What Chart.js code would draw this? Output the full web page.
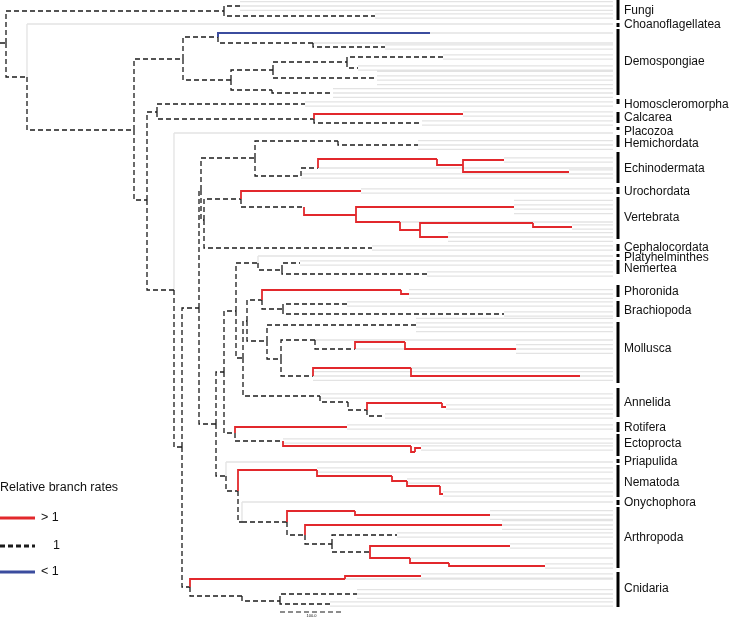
<!DOCTYPE html>
<html>
<head>
<meta charset="utf-8">
<script src="https://cdn.jsdelivr.net/npm/chart.js@4.4.0/dist/chart.umd.min.js"></script>
<style>
  html, body { margin: 0; padding: 0; background: #fff; }
</style>
</head>
<body>
<canvas id="treeChart" width="729" height="617"></canvas>
<script>
// each branch: [name, parent, depth, row, rate, taxa]
// rate: f = >1, n = 1, s = <1, z = zero length
const outgroup = [
  ['stem', null, 0, 43, 'n', 0],
  ['root', 'stem', 6, 43, 'n', 0],
  ['fungi', 'root', 224, 11, 'n', 0],
  ['fungiA', 'fungi', 240, 6, 'n', 3],
  ['fungiB', 'fungi', 375, 16, 'n', 2],
  ['m0', 'root', 27, 77, 'n', 0],
  ['choano', 'm0', 27, 24, 'z', 1],
  ['metazoa', 'm0', 134, 130, 'n', 0]
];

const sponges = [
  ['demo', 'metazoa', 183, 59, 'n', 0],
  ['d1', 'demo', 218, 37, 'n', 0],
  ['d1a', 'd1', 430, 33, 's', 1],
  ['d1b', 'd1', 313, 43, 'n', 1],
  ['d1b1', 'd1b', 385, 47, 'n', 2],
  ['d2', 'demo', 231, 80, 'n', 0],
  ['d2a', 'd2', 273, 70, 'n', 0],
  ['d2a1', 'd2a', 347, 62, 'n', 0],
  ['d2a1a', 'd2a1', 443, 57, 'n', 2],
  ['d2a1b', 'd2a1', 358, 68, 'n', 2],
  ['d2a2', 'd2a', 377, 78, 'n', 4],
  ['d2b', 'd2', 272, 90, 'n', 0],
  ['d2b1', 'd2b', 333, 93, 'n', 3],
  ['eum0', 'metazoa', 147, 200, 'n', 0],
  ['calc0', 'eum0', 157, 112, 'n', 0],
  ['homo', 'calc0', 305, 104, 'n', 2],
  ['calc', 'calc0', 314, 119, 'n', 0],
  ['calcA', 'calc', 463, 114, 'f', 2],
  ['calcB', 'calc', 422, 123, 'n', 2],
  ['eum1', 'eum0', 174, 290, 'n', 0],
  ['placozoa', 'eum1', 174, 133, 'z', 1],
  ['eum2', 'eum1', 182, 447, 'n', 0],
  ['bilat', 'eum2', 199, 308, 'n', 0]
];

const cnidaria = [
  ['cnid', 'eum2', 190, 587, 'n', 0],
  ['cnidA', 'cnid', 345, 579, 'f', 1],
  ['cnidA1', 'cnidA', 421, 576, 'f', 2],
  ['cnidB', 'cnid', 242, 596, 'n', 0],
  ['cnidB1', 'cnidB', 280, 601, 'n', 0],
  ['cnidB1a', 'cnidB1', 357, 594, 'n', 3],
  ['cnidB1b', 'cnidB1', 330, 604, 'n', 2]
];

const deuterostomes = [
  ['deut', 'bilat', 201, 190, 'n', 0],
  ['amb', 'deut', 255, 158, 'n', 0],
  ['hemi', 'amb', 338, 141, 'n', 0],
  ['hemi1', 'hemi', 418, 145, 'n', 3],
  ['echi0', 'amb', 301, 176, 'n', 2],
  ['echi1', 'echi0', 318, 168, 'n', 1],
  ['echi2', 'echi1', 437, 159, 'f', 0],
  ['echi3', 'echi2', 463, 165, 'f', 0],
  ['echi3a', 'echi3', 504, 160, 'f', 2],
  ['echi3b', 'echi3', 569, 172, 'f', 2],
  ['chord', 'deut', 204, 220, 'n', 0],
  ['olf', 'chord', 241, 199, 'n', 0],
  ['uro', 'olf', 361, 191, 'f', 2],
  ['vert0', 'olf', 304, 207, 'n', 0],
  ['vert1', 'vert0', 356, 215, 'f', 0],
  ['vert1a', 'vert1', 514, 207, 'f', 4],
  ['vert2', 'vert1', 400, 222, 'f', 1],
  ['vert3', 'vert2', 420, 230, 'f', 0],
  ['vert4', 'vert3', 533, 223, 'f', 0],
  ['vert4a', 'vert4', 572, 227, 'f', 2],
  ['vert3b', 'vert3', 448, 237, 'f', 3],
  ['ceph', 'chord', 372, 248, 'n', 2]
];

const spiralia = [
  ['proto', 'bilat', 216, 424, 'n', 0],
  ['spir', 'proto', 224, 372, 'n', 0],
  ['s2', 'spir', 236, 311, 'n', 0],
  ['platnem', 's2', 258, 263, 'n', 0],
  ['platy', 'platnem', 258, 256, 'z', 1],
  ['nem', 'platnem', 282, 270, 'n', 0],
  ['nemA', 'nem', 300, 263, 'n', 2],
  ['nemB', 'nem', 427, 274, 'n', 2],
  ['s3', 's2', 243, 358, 'n', 0],
  ['s4', 's3', 247, 321, 'n', 0],
  ['lopho', 's4', 262, 300, 'n', 0],
  ['phor', 'lopho', 401, 290, 'f', 0],
  ['phor1', 'phor', 409, 294, 'f', 3],
  ['brach', 'lopho', 283, 309, 'n', 0],
  ['brachA', 'brach', 347, 304, 'n', 2],
  ['brachB', 'brach', 504, 314, 'n', 2],
  ['moll', 's4', 267, 341, 'n', 0],
  ['mollA', 'moll', 416, 325, 'n', 4],
  ['m1', 'moll', 281, 359, 'n', 0],
  ['m2', 'm1', 315, 340, 'n', 1],
  ['m2a', 'm2', 355, 349, 'n', 1],
  ['m2b', 'm2a', 405, 342, 'f', 0],
  ['m2c', 'm2b', 516, 349, 'f', 3],
  ['m3', 'm1', 313, 376, 'n', 3],
  ['m3a', 'm3', 411, 368, 'f', 1],
  ['m3b', 'm3a', 580, 376, 'f', 1],
  ['ann', 's3', 320, 396, 'n', 2],
  ['ann1', 'ann', 348, 402, 'n', 0],
  ['ann2', 'ann1', 367, 410, 'n', 0],
  ['ann3', 'ann2', 442, 403, 'f', 0],
  ['ann3a', 'ann3', 446, 407, 'f', 2],
  ['ann2b', 'ann2', 385, 416, 'n', 2],
  ['roec', 'spir', 235, 433, 'n', 0],
  ['rot', 'roec', 347, 427, 'f', 2],
  ['ecto0', 'roec', 283, 441, 'n', 2],
  ['ecto1', 'ecto0', 411, 446, 'f', 0],
  ['ecto2', 'ecto1', 415, 452, 'f', 0],
  ['ecto3', 'ecto2', 421, 448, 'f', 2]
];

const ecdysozoa = [
  ['ecd', 'proto', 226, 476, 'n', 0],
  ['pria', 'ecd', 226, 462, 'z', 1],
  ['e2', 'ecd', 238, 491, 'n', 0],
  ['nema0', 'e2', 317, 470, 'f', 2],
  ['nema1', 'nema0', 392, 476, 'f', 0],
  ['nema2', 'nema1', 407, 481, 'f', 2],
  ['nema3', 'nema2', 440, 486, 'f', 0],
  ['nema4', 'nema3', 443, 494, 'f', 2],
  ['pan0', 'e2', 242, 522, 'n', 0],
  ['onych', 'pan0', 242, 502, 'z', 1],
  ['arth', 'pan0', 287, 522, 'n', 0],
  ['a1', 'arth', 355, 511, 'f', 0],
  ['a1a', 'a1', 490, 515, 'f', 3],
  ['a2', 'arth', 305, 535, 'n', 0],
  ['a2a', 'a2', 502, 525, 'f', 3],
  ['a3', 'a2', 332, 544, 'n', 0],
  ['a3a', 'a3', 397, 535, 'n', 2],
  ['a4', 'a3', 370, 552, 'n', 0],
  ['a4a', 'a4', 510, 546, 'f', 2],
  ['a5', 'a4', 410, 558, 'f', 1],
  ['a6', 'a5', 449, 563, 'f', 0],
  ['a6a', 'a6', 545, 566, 'f', 2]
];

const cladeNames = ['Fungi', 'Choanoflagellatea', 'Demospongiae', 'Homoscleromorpha', 'Calcarea',
  'Placozoa', 'Hemichordata', 'Echinodermata', 'Urochordata', 'Vertebrata', 'Cephalocordata',
  'Platyhelminthes', 'Nemertea', 'Phoronida', 'Brachiopoda', 'Mollusca', 'Annelida', 'Rotifera',
  'Ectoprocta', 'Priapulida', 'Nematoda', 'Onychophora', 'Arthropoda', 'Cnidaria'];
const cladeTop = [0, 23, 29, 99, 112, 127, 135, 152, 187, 197, 244, 254, 260, 285, 301, 322, 388, 422, 434, 459, 465, 500, 507, 572];
const cladeBottom = [20, 27, 95, 104, 123, 130, 147, 183, 194, 239, 251, 257, 274, 297, 317, 383, 417, 432, 456, 463, 497, 505, 568, 607];
const cladeLabelRow = [11, 25, 62, 105, 118, 132, 144, 169, 192, 218, 248, 258, 269, 292, 311, 349, 403, 428, 444, 462, 483, 503, 538, 589];

const rateLabels = ['> 1', '1', '< 1'];
const scaleBar = { start: 280, length: 63, label: '100.0' };

const tipEnd = 613;
const barDepth = 618;
const labelDepth = 624;
const taxonGap = 4.4;

const RED = '#e2282c';
const BLUE = '#3b4c9e';
const DARK = '#1b1b1b';
const GREY = '#e3e3e3';

const tree = [].concat(outgroup, sponges, cnidaria, deuterostomes, spiralia, ecdysozoa);
const byName = {};
tree.forEach(b => { byName[b[0]] = b; });

const paths = { n: [], f: [], s: [], z: [], taxa: [] };
tree.forEach(b => {
  const [name, parent, depth, row, rate, taxa] = b;
  if (parent) {
    const p = byName[parent];
    paths[rate].push({ x: p[2], y: p[3] }, { x: p[2], y: row }, { x: depth, y: row }, { x: depth, y: null });
  }
  for (let i = 0; i < taxa; i++) {
    const ty = row + (i - (taxa - 1) / 2) * taxonGap;
    paths.taxa.push({ x: depth, y: ty }, { x: tipEnd, y: ty }, { x: tipEnd, y: null });
  }
});

const bars = [];
cladeNames.forEach((n, i) => {
  bars.push({ x: barDepth, y: cladeTop[i] }, { x: barDepth, y: cladeBottom[i] }, { x: barDepth, y: null });
});

const scalePts = [{ x: scaleBar.start, y: 612 }, { x: scaleBar.start + scaleBar.length, y: 612 }];

function lineSet(data, color, width, dash, order) {
  return {
    type: 'line',
    data: data,
    borderColor: color,
    borderWidth: width,
    borderDash: dash,
    borderCapStyle: 'butt',
    pointRadius: 0,
    tension: 0,
    spanGaps: false,
    fill: false,
    order: order
  };
}

const labelPlugin = {
  id: 'cladeLabels',
  afterDatasetsDraw(chart) {
    const { ctx, scales: { x, y } } = chart;
    ctx.save();
    ctx.fillStyle = '#111';
    ctx.textBaseline = 'middle';
    ctx.font = '12px "Liberation Sans", Arial, sans-serif';
    cladeNames.forEach((name, i) => {
      ctx.fillText(name, x.getPixelForValue(labelDepth), y.getPixelForValue(cladeLabelRow[i]));
    });

    // legend
    ctx.font = '12.5px "Liberation Sans", Arial, sans-serif';
    ctx.fillText('Relative branch rates', 0, 488);
    const swatch = [
      { c: RED, d: [], yy: 518 },
      { c: DARK, d: [5, 3], yy: 546 },
      { c: BLUE, d: [], yy: 572 }
    ];
    swatch.forEach((s, i) => {
      ctx.beginPath();
      ctx.setLineDash(s.d);
      ctx.strokeStyle = s.c;
      ctx.lineWidth = 3;
      ctx.moveTo(0, s.yy);
      ctx.lineTo(35, s.yy);
      ctx.stroke();
      ctx.setLineDash([]);
      ctx.fillText(rateLabels[i], i === 1 ? 53 : 41, s.yy);
    });

    ctx.font = '4px "Liberation Sans", Arial, sans-serif';
    ctx.textAlign = 'center';
    ctx.fillText(scaleBar.label, x.getPixelForValue(scaleBar.start + scaleBar.length / 2), y.getPixelForValue(616));
    ctx.restore();
  }
};

new Chart(document.getElementById('treeChart'), {
  type: 'line',
  data: {
    datasets: [
      lineSet(paths.s, BLUE, 2, [], 0),
      lineSet(paths.f, RED, 1.8, [], 1),
      lineSet(paths.n, DARK, 1.3, [5, 3], 2),
      lineSet(bars, '#000', 3, [], 3),
      lineSet(scalePts, DARK, 1.2, [5, 3], 4),
      lineSet(paths.z, GREY, 1.3, [], 5),
      lineSet(paths.taxa, GREY, 1.3, [], 6)
    ]
  },
  options: {
    responsive: false,
    animation: false,
    events: [],
    layout: { padding: 0 },
    plugins: { legend: { display: false }, tooltip: { enabled: false } },
    scales: {
      x: { type: 'linear', min: 0, max: 729, display: false },
      y: { type: 'linear', min: 0, max: 617, reverse: true, display: false }
    }
  },
  plugins: [labelPlugin]
});
</script>
</body>
</html>
